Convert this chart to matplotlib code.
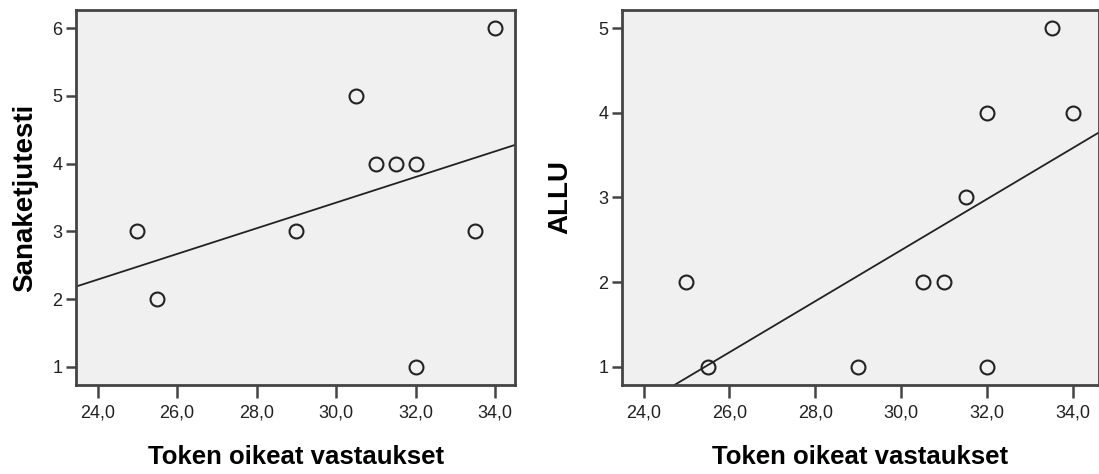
import numpy as np
import matplotlib.pyplot as plt

plt.rcParams['font.family'] = ['Liberation Sans', 'DejaVu Sans']

token = [25.0, 25.5, 29.0, 30.5, 31.0, 31.5, 32.0, 32.0, 33.5, 34.0]
sanaketju = [3, 2, 3, 5, 4, 4, 4, 1, 3, 6]
allu = [2, 1, 1, 2, 2, 3, 4, 1, 5, 4]

x_ticks = [24, 26, 28, 30, 32, 34]

fig = plt.figure(figsize=(10.99, 4.74), dpi=100)
ax1 = fig.add_axes([0.0692, 0.1878, 0.3995, 0.7911])
ax2 = fig.add_axes([0.566, 0.1878, 0.4336, 0.7911])


def scatter_panel(ax, x, y, ylabel, xlim, ylim, yticks, ypad):
    ax.set_facecolor('#f0f0f0')
    ax.plot(x, y, 'o', ms=10, mfc='none', mec='#222222', mew=1.5, zorder=3)
    # least squares fit line across the whole x range
    k, b = np.polyfit(x, y, 1)
    xs = np.array(xlim)
    ax.plot(xs, k * xs + b, color='#222222', lw=1.3, zorder=2)
    ax.set_xlim(xlim)
    ax.set_ylim(ylim)
    ax.set_xticks(x_ticks)
    ax.set_xticklabels([('%.1f' % t).replace('.', ',') for t in x_ticks])
    ax.set_yticks(yticks)
    ax.tick_params(length=7, width=1.8, color='#444444', labelsize=13,
                   labelcolor='#222222', pad=3)
    ax.tick_params(axis='x', length=9, pad=5)
    for s in ax.spines.values():
        s.set_color('#444444')
        s.set_linewidth(2)
    ax.set_xlabel('Token oikeat vastaukset', fontsize=18.5, fontweight='bold', labelpad=17)
    ax.set_ylabel(ylabel, fontsize=20, fontweight='bold', labelpad=ypad)


scatter_panel(ax1, token, sanaketju, 'Sanaketjutesti', (23.46, 34.5), (0.73, 6.27),
              [1, 2, 3, 4, 5, 6], 10)
scatter_panel(ax2, token, allu, 'ALLU', (23.5, 34.59), (0.784, 5.216),
              [1, 2, 3, 4, 5], 18)

fig.savefig('out.png', dpi=100)
